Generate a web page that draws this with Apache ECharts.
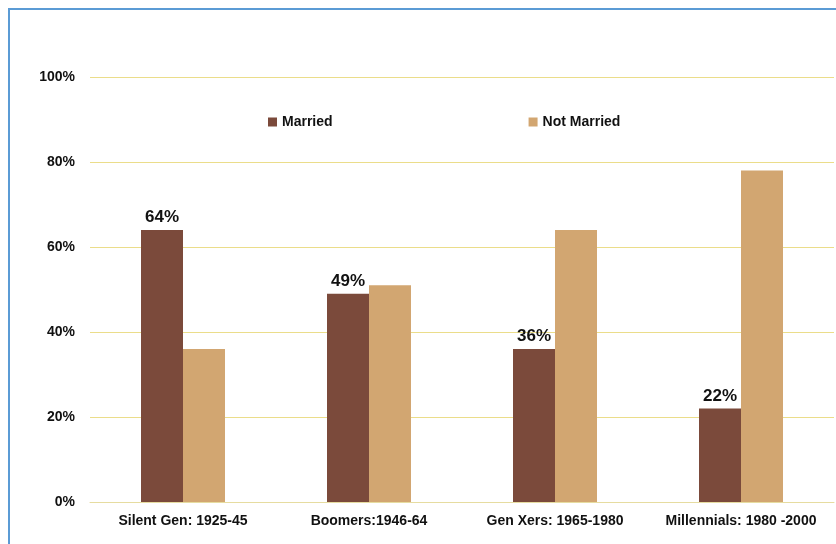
<!DOCTYPE html>
<html>
<head>
<meta charset="utf-8">
<script src="https://cdn.jsdelivr.net/npm/echarts@6/dist/echarts.min.js"></script>
<style>
html,body{margin:0;padding:0;background:#fff;}
#chart{width:836px;height:544px;}
</style>
</head>
<body>
<div id="chart"></div>
<script>
// 各代人婚姻比例
var categories = ['Silent Gen: 1925-45', 'Boomers:1946-64', 'Gen Xers: 1965-1980', 'Millennials: 1980 -2000'];
var married = [64, 49, 36, 22];
var notMarried = [36, 51, 64, 78];
var yTicks = [0, 20, 40, 60, 80, 100];

var font = '"Liberation Sans", Arial, sans-serif';
var chart = echarts.init(document.getElementById('chart'));
var option = {
    animation: false,
    textStyle: { fontFamily: font },
    graphic: [{
        type: 'rect',
        shape: { x: 9, y: 9, width: 860, height: 600 },
        style: { fill: 'none', stroke: '#5b9bd5', lineWidth: 2 }
    }],
    legend: {
        top: 110,
        left: 263,
        itemGap: 196,
        itemWidth: 9,
        itemHeight: 9,
        icon: 'rect',
        textStyle: { fontSize: 14, fontWeight: 'bold', color: '#111', fontFamily: font },
        data: ['Married', 'Not Married']
    },
    grid: { left: 90, right: 2, top: 77, bottom: 42 },
    xAxis: {
        type: 'category',
        data: categories,
        axisTick: { show: false },
        axisLine: { lineStyle: { color: '#e6dca0', width: 1 } },
        axisLabel: { interval: 0, fontSize: 14, fontWeight: 'bold', color: '#111', margin: 12, fontFamily: font }
    },
    yAxis: {
        type: 'value',
        min: 0,
        max: 100,
        interval: 20,
        axisLine: { show: false },
        axisTick: { show: false },
        splitLine: { lineStyle: { color: '#ebdd8a', width: 1 } },
        axisLabel: {
            fontSize: 14, fontWeight: 'bold', color: '#111', margin: 15, fontFamily: font,
            formatter: function (v) { return yTicks.indexOf(v) >= 0 ? v + '%' : ''; }
        }
    },
    series: [{
        name: 'Married',
        type: 'bar',
        data: married,
        barWidth: 42,
        barGap: '0%',
        itemStyle: { color: '#7b4a3b' },
        label: {
            show: true, position: 'top', distance: 4,
            formatter: '{c}%', fontSize: 17, fontWeight: 'bold', color: '#111', fontFamily: font
        }
    }, {
        name: 'Not Married',
        type: 'bar',
        data: notMarried,
        barWidth: 42,
        itemStyle: { color: '#d2a671' }
    }]
};
chart.setOption(option);
</script>
</body>
</html>
